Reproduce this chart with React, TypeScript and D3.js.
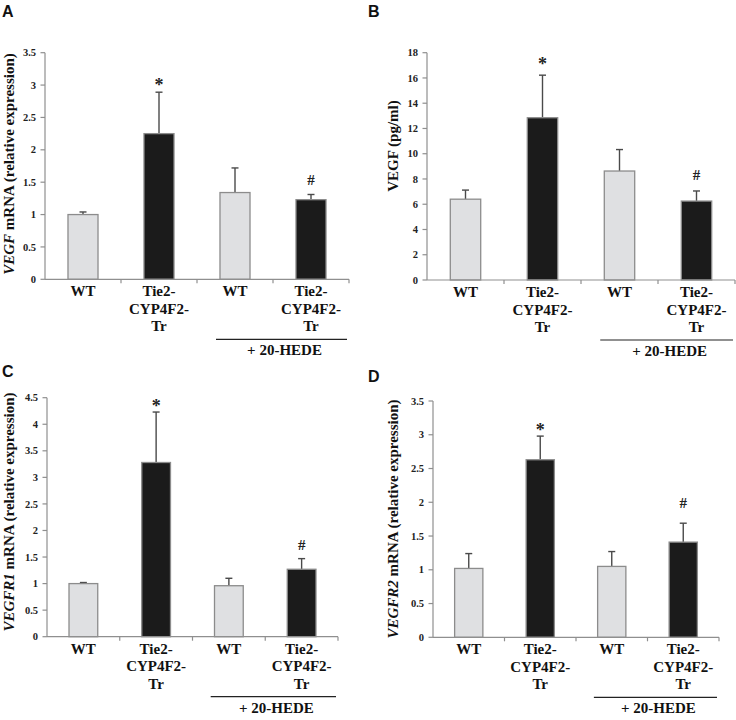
import React from "react";
import * as d3 from "d3";

const categories = ["WT", "Tie2-CYP4F2-Tr", "WT", "Tie2-CYP4F2-Tr"];
const categoryLines = [["WT"], ["Tie2-", "CYP4F2-", "Tr"], ["WT"], ["Tie2-", "CYP4F2-", "Tr"]];
const groupKinds = ["wt", "tg", "wt", "tg"];

const vegfMean = [1.0, 2.25, 1.34, 1.23];
const vegfErr = [0.04, 0.64, 0.38, 0.08];

const vegfProtMean = [6.4, 12.85, 8.63, 6.25];
const vegfProtErr = [0.72, 3.37, 1.7, 0.8];

const vegfr1Mean = [1.0, 3.28, 0.96, 1.27];
const vegfr1Err = [0.02, 0.95, 0.14, 0.2];

const vegfr2Mean = [1.02, 2.63, 1.05, 1.41];
const vegfr2Err = [0.22, 0.35, 0.22, 0.28];

const starIndex = 1;
const hashIndex = 3;
const treatmentLabel = "+ 20-HEDE";

type Panel = {
  letter: string;
  means: number[];
  errs: number[];
  max: number;
  step: number;
  labelItalic: string;
  labelRest: string;
  left: number;
  right: number;
  top: number;
  bottom: number;
  letterX: number;
  letterY: number;
  labelX: number;
  labelCY: number;
  starGap: number;
  hashGap: number;
};

const panels: Panel[] = [
  {
    letter: "A", means: vegfMean, errs: vegfErr, max: 3.5, step: 0.5,
    labelItalic: "VEGF", labelRest: " mRNA (relative expression)",
    left: 45, right: 349, top: 52.7, bottom: 279.3,
    letterX: 2, letterY: 17, labelX: 14, labelCY: 164, starGap: 10, hashGap: 14,
  },
  {
    letter: "B", means: vegfProtMean, errs: vegfProtErr, max: 18, step: 2,
    labelItalic: "", labelRest: "VEGF (pg/ml)",
    left: 427, right: 735, top: 52.7, bottom: 280,
    letterX: 368, letterY: 17, labelX: 398, labelCY: 146, starGap: 14, hashGap: 16,
  },
  {
    letter: "C", means: vegfr1Mean, errs: vegfr1Err, max: 4.5, step: 0.5,
    labelItalic: "VEGFR1", labelRest: " mRNA (relative expression)",
    left: 47, right: 338, top: 397.7, bottom: 636.7,
    letterX: 2, letterY: 377, labelX: 14, labelCY: 512, starGap: 9, hashGap: 14,
  },
  {
    letter: "D", means: vegfr2Mean, errs: vegfr2Err, max: 3.5, step: 0.5,
    labelItalic: "VEGFR2", labelRest: " mRNA (relative expression)",
    left: 433, right: 719, top: 401, bottom: 637.3,
    letterX: 368, letterY: 382, labelX: 398, labelCY: 519, starGap: 9.5, hashGap: 20,
  },
];

const SERIF = "'Times New Roman', 'Liberation Serif', Tinos, 'DejaVu Serif', serif";
const SANS = "Arial, 'Liberation Sans', Helvetica, sans-serif";
const AXIS = "#8f8f8f";
const LIGHT = "#dfe0e2";
const DARK = "#1b1b1b";
const BAR_STROKE = "#8c8c8c";
const ERR = "#4a4a4a";

const serifStyle = { fontFamily: SERIF, fontWeight: 700 } as React.CSSProperties;
const sansStyle = { fontFamily: SANS, fontWeight: 700 } as React.CSSProperties;

function PanelChart({ p }: { p: Panel }) {
  const idx = d3.range(categories.length);
  const x = d3.scaleBand<number>().domain(idx).range([p.left, p.right]).padding(0);
  const y = d3.scaleLinear().domain([0, p.max]).range([p.bottom, p.top]);
  const bw = x.bandwidth();
  const barW = bw * 0.395;
  const ticks = d3.range(0, p.max + p.step / 2, p.step);
  const fmt = (v: number) => String(+v.toFixed(1));
  const hedeX1 = (x(2) as number) + bw * 0.25;
  const hedeX2 = p.right - 2;
  const hedeY = p.bottom + 60;
  const cxOf = (i: number) => (x(i) as number) + bw / 2;

  return (
    <g>
      <text x={p.letterX} y={p.letterY} style={sansStyle} fontSize={16} fill="#111">
        {p.letter}
      </text>
      <text
        transform={`translate(${p.labelX},${p.labelCY}) rotate(-90)`}
        textAnchor="middle"
        style={serifStyle}
        fontSize={15}
        fill="#111"
      >
        {p.labelItalic && <tspan fontStyle="italic">{p.labelItalic}</tspan>}
        <tspan>{p.labelRest}</tspan>
      </text>
      {idx.map((i) => {
        const cx = cxOf(i);
        const yTop = y(p.means[i]);
        const yErr = y(p.means[i] + p.errs[i]);
        return (
          <g key={i}>
            <line x1={cx} x2={cx} y1={yTop} y2={yErr} stroke={ERR} strokeWidth={1.4} />
            <line x1={cx - 3.5} x2={cx + 3.5} y1={yErr} y2={yErr} stroke={ERR} strokeWidth={1.4} />
            <rect
              x={cx - barW / 2}
              y={yTop}
              width={barW}
              height={p.bottom - yTop}
              fill={groupKinds[i] === "wt" ? LIGHT : DARK}
              stroke={BAR_STROKE}
              strokeWidth={1.3}
            />
          </g>
        );
      })}
      <text
        x={cxOf(starIndex)}
        y={y(p.means[starIndex] + p.errs[starIndex]) - p.starGap + 9}
        textAnchor="middle"
        style={serifStyle}
        fontSize={18}
        fill="#222"
      >
        *
      </text>
      <text
        x={cxOf(hashIndex)}
        y={y(p.means[hashIndex] + p.errs[hashIndex]) - p.hashGap + 5}
        textAnchor="middle"
        style={serifStyle}
        fontSize={15}
        fill="#222"
      >
        #
      </text>
      <line x1={p.left} x2={p.left} y1={p.top} y2={p.bottom} stroke={AXIS} strokeWidth={1.2} />
      {ticks.map((t) => (
        <g key={t}>
          <line x1={p.left - 4.5} x2={p.left} y1={y(t)} y2={y(t)} stroke={AXIS} strokeWidth={1.2} />
          <text
            x={p.left - 9}
            y={y(t)}
            dy="0.35em"
            textAnchor="end"
            style={serifStyle}
            fontSize={10.5}
            fill="#222"
          >
            {fmt(t)}
          </text>
        </g>
      ))}
      <line x1={p.left} x2={p.right} y1={p.bottom} y2={p.bottom} stroke={AXIS} strokeWidth={1.2} />
      {idx.slice(1).map((i) => (
        <line key={i} x1={x(i) as number} x2={x(i) as number} y1={p.bottom} y2={p.bottom + 4} stroke={AXIS} strokeWidth={1.2} />
      ))}
      <line x1={p.right} x2={p.right} y1={p.bottom} y2={p.bottom + 4} stroke={AXIS} strokeWidth={1.2} />
      {idx.map((i) => (
        <text key={i} textAnchor="middle" style={serifStyle} fontSize={15} fill="#111">
          {categoryLines[i].map((ln, k) => (
            <tspan key={k} x={cxOf(i)} y={p.bottom + 17 + k * 17.5}>
              {ln}
            </tspan>
          ))}
        </text>
      ))}
      <line x1={hedeX1} x2={hedeX2} y1={hedeY} y2={hedeY} stroke="#222" strokeWidth={1.2} />
      <text
        x={(hedeX1 + hedeX2) / 2 + 3}
        y={p.bottom + 76}
        textAnchor="middle"
        style={serifStyle}
        fontSize={15}
        fill="#111"
      >
        {treatmentLabel}
      </text>
    </g>
  );
}

export default function App() {
  return (
    <svg
      width={736}
      height={720}
      style={{ position: "absolute", left: 0, top: 0, display: "block" }}
    >
      <rect x={0} y={0} width={736} height={720} fill="#fff" />
      {panels.map((p) => (
        <PanelChart key={p.letter} p={p} />
      ))}
    </svg>
  );
}
